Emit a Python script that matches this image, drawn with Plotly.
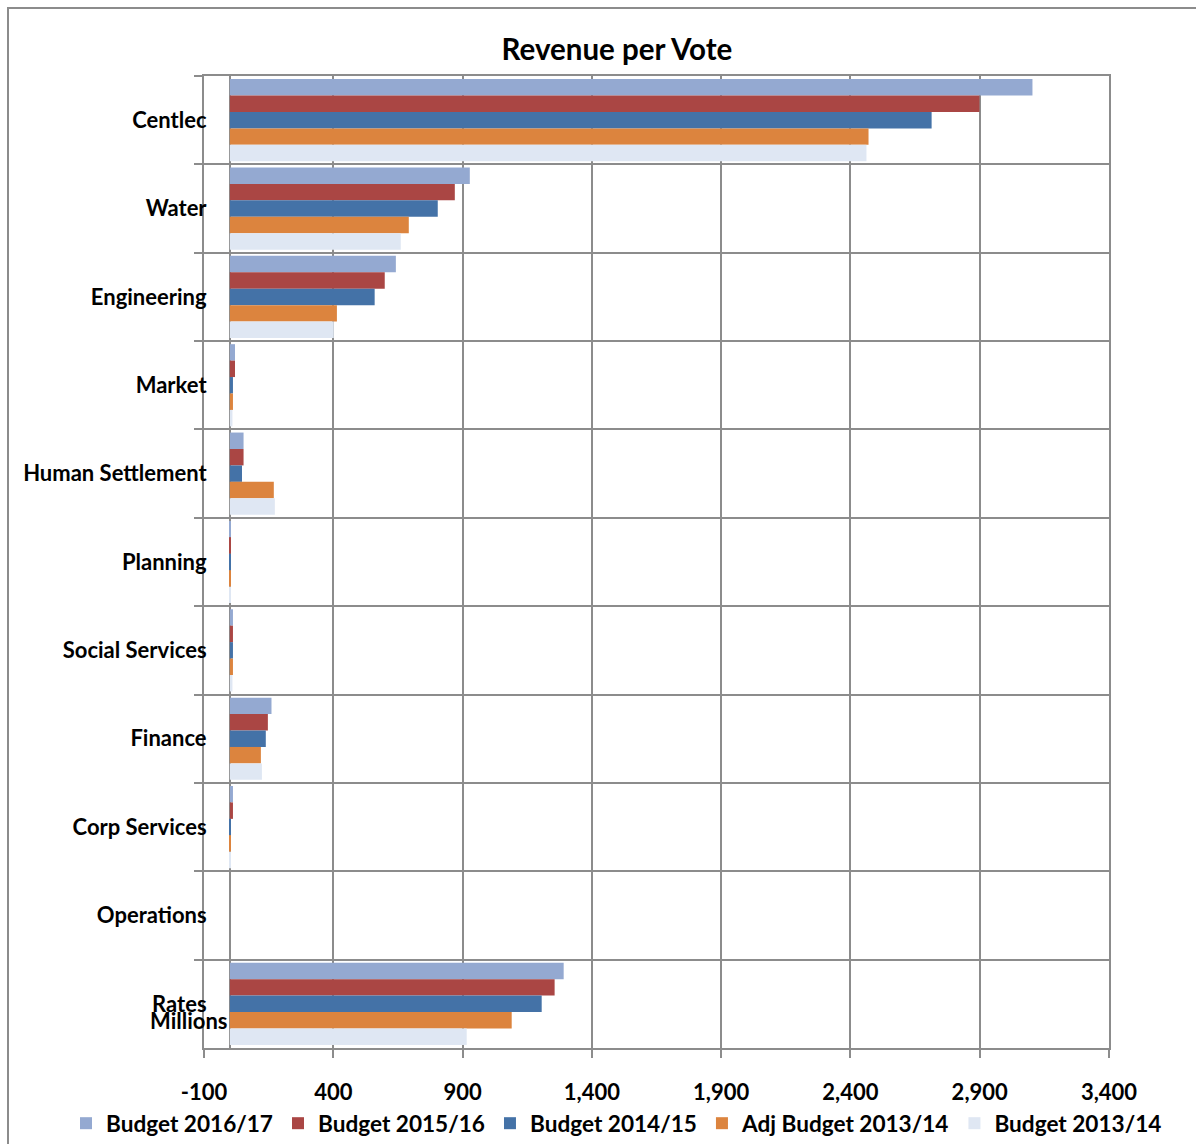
import plotly.graph_objects as go

categories = ["Centlec", "Water", "Engineering", "Market", "Human Settlement", "Planning",
              "Social Services", "Finance", "Corp Services", "Operations", "Rates"]

budget_2016_17 = [3104, 928, 642, 20, 53, 3, 12, 161, 12, 0, 1291]
budget_2015_16 = [2899, 870, 599, 20, 53, 3, 12, 147, 12, 0, 1256]
budget_2014_15 = [2714, 804, 560, 12, 47, 3, 12, 139, 4, 0, 1206]
adj_budget_2013_14 = [2470, 692, 414, 12, 170, 3, 12, 120, 4, 0, 1090]
budget_2013_14 = [2462, 661, 402, 10, 174, 1, 10, 124, 1, 0, 916]

series = [
    ("Budget 2016/17", budget_2016_17, "#94A9D1"),
    ("Budget 2015/16", budget_2015_16, "#AA4644"),
    ("Budget 2014/15", budget_2014_15, "#4472A7"),
    ("Adj Budget 2013/14", adj_budget_2013_14, "#DC843E"),
    ("Budget 2013/14", budget_2013_14, "#DFE7F3"),
]

x_ticks = [-100, 400, 900, 1400, 1900, 2400, 2900, 3400]

FONT = "Lato, 'Open Sans', sans-serif"
GRID = "#8C8C8C"
FS = 22

fig = go.Figure()
for name, vals, color in series:
    fig.add_trace(go.Bar(
        y=categories, x=vals, name=name, orientation="h",
        marker=dict(color=color, line=dict(width=0)),
    ))

W, H = 1196, 1144
L, R, T, B = 204, 1109, 76, 1048
PW, PH = R - L, B - T

fig.update_layout(
    width=W, height=H,
    margin=dict(l=L, r=W - R, t=T, b=H - B, pad=0, autoexpand=False),
    paper_bgcolor="white", plot_bgcolor="white",
    barmode="group", bargap=0.07, bargroupgap=0,
    font=dict(family=FONT, size=FS, color="black"),
    title=dict(text="<b>Revenue per Vote</b>", xref="container", yref="container",
               x=617 / W, y=1 - 50 / H, xanchor="center", yanchor="middle",
               font=dict(family=FONT, size=29.5, color="black")),
    legend=dict(orientation="h", xref="paper", yref="paper",
                x=(66 - L) / PW, y=(B - 1102) / PH, xanchor="left", yanchor="top",
                font=dict(family=FONT, size=22.6, color="black", weight="bold"),
                itemwidth=30, traceorder="normal", tracegroupgap=0,
                bgcolor="rgba(0,0,0,0)"),
    xaxis=dict(range=[-100, 3400], tickvals=x_ticks,
               ticktext=[f"{v:,}" for v in x_ticks],
               showgrid=True, gridcolor=GRID, gridwidth=2,
               zeroline=True, zerolinecolor=GRID, zerolinewidth=2,
               showline=True, linecolor=GRID, linewidth=2, mirror=True,
               ticks="outside", ticklen=8, tickcolor=GRID, tickwidth=2,
               ticklabelstandoff=16,
               tickfont=dict(family=FONT, size=FS, color="black", weight="bold")),
    yaxis=dict(type="category", categoryorder="array", categoryarray=categories,
               autorange="reversed", tickson="boundaries",
               showgrid=True, gridcolor=GRID, gridwidth=2,
               showline=True, linecolor=GRID, linewidth=2, mirror=True,
               ticks="outside", ticklen=8, tickcolor=GRID, tickwidth=2,
               ticklabelstandoff=-9,
               tickfont=dict(family=FONT, size=FS, color="black", weight="bold")),
)

fig.add_annotation(text="<b>Millions</b>", xref="paper", yref="paper",
                   x=(229 - L) / PW, y=(B - 1020) / PH,
                   xanchor="right", yanchor="middle", showarrow=False,
                   font=dict(family=FONT, size=FS, color="black"))

fig.add_shape(type="rect", xref="paper", yref="paper",
              x0=(8 - L) / PW, x1=(1210 - L) / PW,
              y0=(B - 8) / PH, y1=(B - 1160) / PH,
              line=dict(color=GRID, width=2), fillcolor="rgba(0,0,0,0)", layer="below")

fig.write_html("out.html")
